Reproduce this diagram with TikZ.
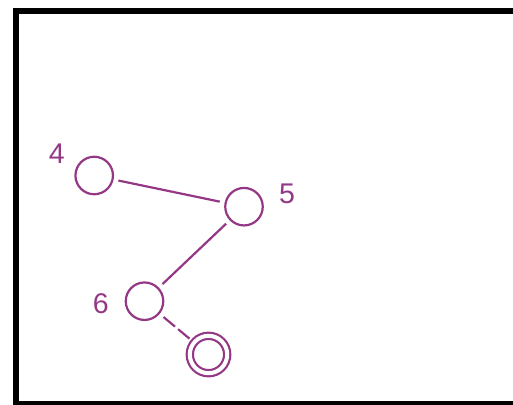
\documentclass[tikz,border=0pt]{standalone}
\usepackage{fontspec}
\setmainfont{Liberation Sans}
\definecolor{plum}{RGB}{148,56,134}
\begin{document}
\begin{tikzpicture}[x=1pt,y=-1pt,
  state/.style={circle,draw=plum,line width=2.2pt,minimum size=37.5pt,inner sep=0pt,outer sep=6pt},
  final/.style={circle,draw=plum,line width=2.2pt,minimum size=37.4pt,inner sep=0pt,double=white,double distance=4pt,outer sep=6pt},
  lbl/.style={text=plum,font=\fontsize{28.5}{28.5}\selectfont,inner sep=0pt},
  edge/.style={draw=plum,line width=2.2pt}]
\useasboundingbox (0,0) rectangle (513,404);
\begin{scope}
\clip (0,0) rectangle (513,404);
\draw[line width=6pt] (16,11.5) rectangle (530,403.5);
\end{scope}
\node[state] (n4) at (94.2,175.5) {};
\node[state] (n5) at (244,206.7) {};
\node[state] (n6) at (144.5,301.2) {};
\node[final] (n7) at (208.5,354.5) {};
\node[lbl] (l4) at (56.7,154) {4};
\node[lbl] (l5) at (287,194) {5};
\node[lbl] (l6) at (100.7,303.3) {6};
\draw[edge] (n4) -- (n5);
\draw[edge] (n5) -- (n6);
\draw[edge,dash pattern=on 15pt off 4pt] (n6) -- (n7);
\end{tikzpicture}
\end{document}
